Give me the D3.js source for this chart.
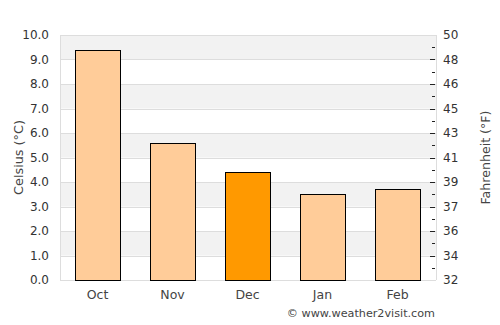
<!DOCTYPE html>
<html>
<head>
<meta charset="utf-8">
<script src="https://cdn.jsdelivr.net/npm/d3@7"></script>
<style>
  body { margin: 0; background: #fff; }
  svg text { font-family: "DejaVu Sans", sans-serif; }
</style>
</head>
<body>
<svg width="500" height="325"></svg>
<script>
// data
var months = ["Oct", "Nov", "Dec", "Jan", "Feb"];
var celsius = [9.4, 5.6, 4.4, 3.5, 3.7];
var highlight = "Dec";
var cTicks = [0, 1, 2, 3, 4, 5, 6, 7, 8, 9, 10];

var svg = d3.select("svg"),
    margin = { top: 35, right: 65, bottom: 45, left: 60 },
    width = +svg.attr("width") - margin.left - margin.right,
    height = +svg.attr("height") - margin.top - margin.bottom,
    g = svg.append("g").attr("transform", "translate(" + margin.left + "," + margin.top + ")");

var x = d3.scaleBand().domain(months).range([0, width]).paddingInner(0.4).paddingOuter(0.2);
var y = d3.scaleLinear().domain([0, 10]).range([height, 0]);

// alternating bands
g.append("g").selectAll("rect")
    .data(cTicks.slice(0, -1))
    .enter().append("rect")
    .attr("x", 0)
    .attr("y", function (d) { return y(d + 1); })
    .attr("width", width + 1)
    .attr("height", function (d) { return y(d) - y(d + 1); })
    .attr("fill", function (d) { return d % 2 === 1 ? "#f2f2f2" : "#fff"; });

// grid lines
g.append("g").selectAll("line")
    .data(cTicks)
    .enter().append("line")
    .attr("x1", 0).attr("x2", width + 1)
    .attr("y1", function (d) { return Math.round(y(d)) + 0.5; })
    .attr("y2", function (d) { return Math.round(y(d)) + 0.5; })
    .attr("stroke", "#ddd");

// frame sides
g.append("line").attr("x1", 0.5).attr("x2", 0.5).attr("y1", 0).attr("y2", height).attr("stroke", "#ddd");
g.append("line").attr("x1", width + 1.5).attr("x2", width + 1.5).attr("y1", 0).attr("y2", height).attr("stroke", "#ddd");

// bars
g.append("g").selectAll("rect")
    .data(months)
    .enter().append("rect")
    .attr("x", function (d) { return Math.round(x(d)) + 0.5; })
    .attr("y", function (d, i) { return Math.round(y(celsius[i])) + 0.5; })
    .attr("width", Math.round(x.bandwidth()))
    .attr("height", function (d, i) { return Math.round(y(0)) - Math.round(y(celsius[i])); })
    .attr("fill", function (d) { return d === highlight ? "#ff9900" : "#ffcc99"; })
    .attr("stroke", "#000")
    .attr("stroke-width", 1);

// left axis (Celsius)
var left = g.append("g")
    .call(d3.axisLeft(y).tickValues(cTicks).tickFormat(d3.format(".1f")).tickSize(0).tickPadding(11));
left.select(".domain").remove();
left.selectAll("text").attr("font-size", 12).attr("fill", "#333");

// right axis (Fahrenheit), labels at the Celsius positions
var right = g.append("g")
    .attr("transform", "translate(" + width + ",0)")
    .call(d3.axisRight(y).tickValues(cTicks).tickSize(0).tickPadding(8)
        .tickFormat(function (d) { return Math.round(d * 9 / 5 + 32); }));
right.select(".domain").remove();
right.selectAll("text").attr("font-size", 12).attr("fill", "#333");

// small ticks inside the right edge every half degree
g.append("g").selectAll("line")
    .data(d3.range(0.5, 10, 0.5))
    .enter().append("line")
    .attr("x1", function (d) { return d % 1 === 0 ? width - 5 : width - 3; })
    .attr("x2", width)
    .attr("y1", function (d) { return Math.round(y(d)) + 0.5; })
    .attr("y2", function (d) { return Math.round(y(d)) + 0.5; })
    .attr("stroke", "#222");

// bottom axis
var bottom = g.append("g")
    .attr("transform", "translate(0," + height + ")")
    .call(d3.axisBottom(x).tickSize(0).tickPadding(10));
bottom.select(".domain").remove();
bottom.selectAll("text").attr("font-size", 12.5).attr("fill", "#444");

// axis titles
svg.append("text")
    .attr("transform", "translate(23," + (margin.top + height / 2) + ") rotate(-90)")
    .attr("text-anchor", "middle")
    .attr("font-size", 12.8)
    .attr("fill", "#444")
    .text("Celsius (°C)");

svg.append("text")
    .attr("transform", "translate(490," + (margin.top + height / 2) + ") rotate(-90)")
    .attr("text-anchor", "middle")
    .attr("font-size", 12.6)
    .attr("fill", "#444")
    .text("Fahrenheit (°F)");

svg.append("text")
    .attr("x", 435)
    .attr("y", 317)
    .attr("text-anchor", "end")
    .attr("font-size", 11.2)
    .attr("fill", "#444")
    .text("© www.weather2visit.com");
</script>
</body>
</html>
